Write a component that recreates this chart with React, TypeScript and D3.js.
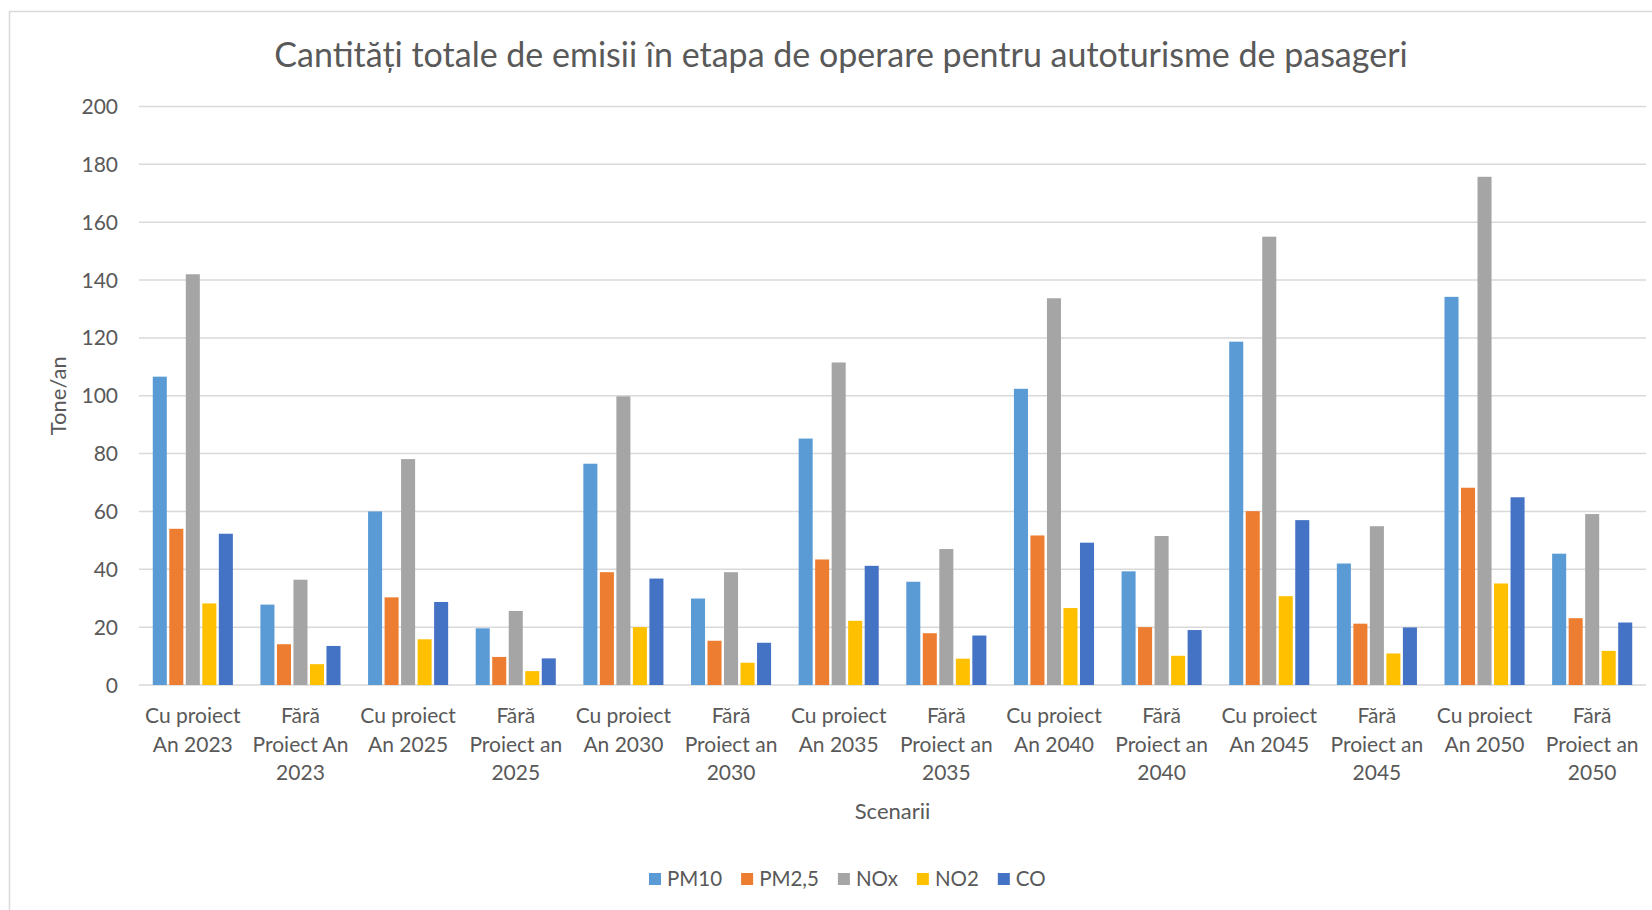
import React, { useEffect, useRef } from "react";
import * as d3 from "d3";

const scenarii = [
  "Cu proiect An 2023", "Fără Proiect An 2023",
  "Cu proiect An 2025", "Fără Proiect an 2025",
  "Cu proiect An 2030", "Fără Proiect an 2030",
  "Cu proiect An 2035", "Fără Proiect an 2035",
  "Cu proiect An 2040", "Fără Proiect an 2040",
  "Cu proiect An 2045", "Fără Proiect an 2045",
  "Cu proiect An 2050", "Fără Proiect an 2050",
];

const poluanti = ["PM10", "PM2,5", "NOx", "NO2", "CO"];
const culori = ["#5B9BD5", "#ED7D31", "#A5A5A5", "#FFC000", "#4472C4"];

const pm10 = [106.6, 27.8, 60.0, 19.6, 76.5, 29.9, 85.2, 35.7, 102.4, 39.3, 118.7, 42.0, 134.2, 45.4];
const pm25 = [54.0, 14.1, 30.3, 9.7, 39.0, 15.3, 43.4, 17.9, 51.7, 20.0, 60.1, 21.2, 68.2, 23.1];
const nox = [142.0, 36.4, 78.1, 25.6, 99.8, 39.0, 111.5, 47.0, 133.7, 51.5, 155.0, 54.9, 175.7, 59.1];
const no2 = [28.2, 7.2, 15.8, 4.8, 20.0, 7.7, 22.2, 9.1, 26.6, 10.1, 30.7, 10.9, 35.1, 11.8];
const co = [52.3, 13.5, 28.7, 9.2, 36.8, 14.6, 41.2, 17.1, 49.2, 19.0, 57.0, 19.9, 64.9, 21.6];

const serii = [pm10, pm25, nox, no2, co];
const yTicks = [0, 20, 40, 60, 80, 100, 120, 140, 160, 180, 200];

const W = 1652;
const H = 910;
const margem = { top: 106.5, bottom: H - 685, left: 139, right: W - 1646 };
const FONT = "Lato, 'Open Sans', sans-serif";
const GRI = "#595959";

function wrap(sel: d3.Selection<SVGTextElement, string, any, any>, maxW: number, lineH: number) {
  sel.each(function (t) {
    const text = d3.select(this);
    const words = t.split(/\s+/);
    const x = text.attr("x");
    text.text(null);
    let line: string[] = [];
    let tspan = text.append("tspan").attr("x", x).attr("dy", 0);
    for (const w of words) {
      line.push(w);
      tspan.text(line.join(" "));
      if ((tspan.node() as SVGTSpanElement).getComputedTextLength() > maxW && line.length > 1) {
        line.pop();
        tspan.text(line.join(" "));
        line = [w];
        tspan = text.append("tspan").attr("x", x).attr("dy", lineH).text(w);
      }
    }
  });
}

export default function App() {
  const ref = useRef<SVGSVGElement>(null);

  useEffect(() => {
    const svg = d3.select(ref.current);
    svg.selectAll("*").remove();

    svg.append("rect")
      .attr("x", 9.5).attr("y", 11.5)
      .attr("width", 1700).attr("height", 1000)
      .attr("fill", "white").attr("stroke", "#d9d9d9").attr("stroke-width", 1.5);

    const x = d3.scaleBand<string>()
      .domain(scenarii)
      .range([margem.left, W - margem.right])
      .paddingInner(0.256)
      .paddingOuter(0.128);

    const xSub = d3.scaleBand<string>()
      .domain(poluanti)
      .range([0, x.bandwidth()])
      .paddingInner(0.15);

    const y = d3.scaleLinear()
      .domain([0, 200])
      .range([H - margem.bottom, margem.top]);

    const color = d3.scaleOrdinal<string>().domain(poluanti).range(culori);

    // grid
    svg.append("g")
      .selectAll("line")
      .data(yTicks)
      .join("line")
      .attr("x1", margem.left)
      .attr("x2", W - margem.right)
      .attr("y1", (d) => y(d))
      .attr("y2", (d) => y(d))
      .attr("stroke", "#d9d9d9")
      .attr("stroke-width", 1.5);

    svg.append("g")
      .selectAll("text")
      .data(yTicks)
      .join("text")
      .attr("x", 118)
      .attr("y", (d) => y(d))
      .attr("dy", "0.36em")
      .attr("text-anchor", "end")
      .attr("font-family", FONT)
      .attr("font-size", 21)
      .attr("fill", GRI)
      .text((d) => d);

    // bars
    svg.append("g")
      .selectAll("g")
      .data(scenarii)
      .join("g")
      .attr("transform", (d) => `translate(${x(d)},0)`)
      .selectAll("rect")
      .data((_, i) => poluanti.map((p, j) => ({ key: p, value: serii[j][i] })))
      .join("rect")
      .attr("x", (d) => xSub(d.key) ?? NaN)
      .attr("width", xSub.bandwidth())
      .attr("y", (d) => y(d.value))
      .attr("height", (d) => y(0) - y(d.value))
      .attr("fill", (d) => color(d.key));

    // category labels
    svg.append("g")
      .selectAll<SVGTextElement, string>("text")
      .data(scenarii)
      .join("text")
      .attr("x", (d) => (x(d) ?? 0) + x.bandwidth() / 2)
      .attr("y", 723)
      .attr("text-anchor", "middle")
      .attr("font-family", FONT)
      .attr("font-size", 21)
      .attr("fill", GRI)
      .text((d) => d)
      .call(wrap, 104, 28.5);

    // titles
    svg.append("text")
      .attr("x", 841).attr("y", 67)
      .attr("text-anchor", "middle")
      .attr("font-family", FONT)
      .attr("font-size", 34)
      .attr("fill", GRI)
      .text("Cantități totale de emisii în etapa de operare pentru autoturisme de pasageri");

    svg.append("text")
      .attr("x", (margem.left + W - margem.right) / 2).attr("y", 819)
      .attr("text-anchor", "middle")
      .attr("font-family", FONT)
      .attr("font-size", 22)
      .attr("fill", GRI)
      .text("Scenarii");

    svg.append("text")
      .attr("transform", `translate(58,${(y(0) + y(200)) / 2}) rotate(-90)`)
      .attr("dy", "0.36em")
      .attr("text-anchor", "middle")
      .attr("font-family", FONT)
      .attr("font-size", 22)
      .attr("fill", GRI)
      .text("Tone/an");

    // legend
    const leg = svg.append("g").attr("transform", "translate(0,879)");
    let lx = 649;
    poluanti.forEach((p) => {
      leg.append("rect")
        .attr("x", lx).attr("y", -6)
        .attr("width", 12).attr("height", 12)
        .attr("fill", color(p));
      const t = leg.append("text")
        .attr("x", lx + 18).attr("dy", "0.36em")
        .attr("font-family", FONT)
        .attr("font-size", 20.5)
        .attr("fill", GRI)
        .text(p);
      const w = (t.node() as SVGTextElement).getComputedTextLength();
      lx += 18 + w + 19;
    });
  }, []);

  return (
    <svg
      ref={ref}
      width={W}
      height={H}
      style={{ position: "absolute", left: 0, top: 0, background: "white" }}
    />
  );
}
